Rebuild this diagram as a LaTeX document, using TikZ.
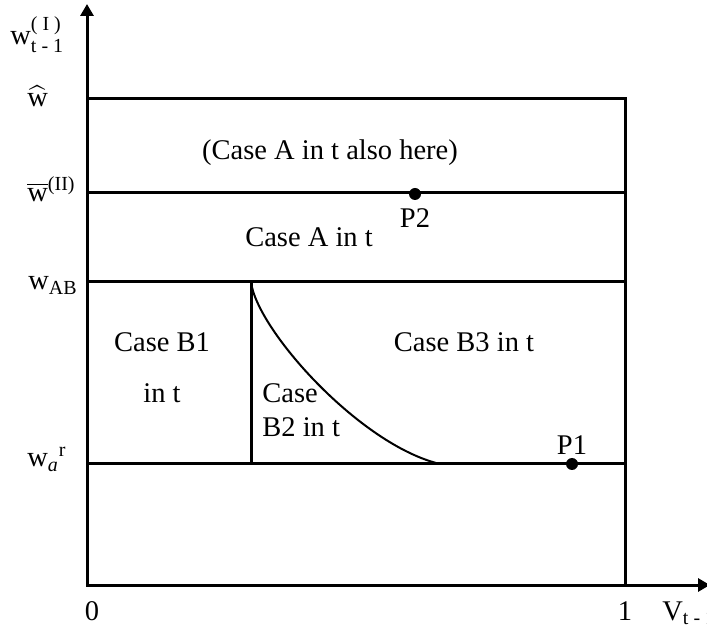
\documentclass[tikz,border=0pt]{standalone}
\usepackage{amsmath}
\usepackage{fontspec}
\setmainfont{Liberation Serif}
\usetikzlibrary{arrows.meta,positioning}
\tikzset{
  rgaxis/.style={{Triangle[length=6pt,width=6.5pt]}-{Triangle[length=6pt,width=6.5pt]}, line width=1.5pt},
  rgline/.style={line width=1.5pt, line cap=rect},
  rgcurve/.style={line width=1pt},
  rgdot/.style={circle, fill=black, inner sep=0pt, minimum size=6pt},
  rgtext/.style={inner sep=0pt, anchor=base},
  rgtick/.style={inner sep=0pt, anchor=base west}
}

\begin{document}
\begin{tikzpicture}[x=0.5pt, y=-0.5pt, font=\fontsize{14.25}{17}\selectfont]
  \useasboundingbox (0,0) rectangle (707,630);
  % axes
  \coordinate (origin) at (87,585);
  \coordinate (ytop) at (87,4);
  \coordinate (xend) at (710,585);
  \coordinate (one) at (625,585);
  \draw[rgaxis] (ytop) -- (origin) -- (xend);
  % levels of w
  \foreach \lv/\y in {hat/99, bar/193, ab/282, ar/464} {
    \coordinate (\lv-l) at (87,\y);
    \coordinate (\lv-r) at (625,\y);
    \draw[rgline] (\lv-l) -- (\lv-r);
  }
  \draw[rgline] (hat-r) -- (one);
  % borders of case B
  \coordinate (kink) at (251,282);
  \coordinate (kinkfoot) at (251,464);
  \coordinate (curveend) at (440,464);
  \draw[rgline] (kink) -- (kinkfoot);
  \draw[rgcurve] (kink) .. controls (257,330) and (360,445) .. (curveend);
  % points
  \node[rgdot] (p2) at (415,194) {};
  \node[rgdot] (p1) at (572,464) {};
  \node[inner sep=0pt, below=4pt of p2] (p2lbl) {P2};
  \node[inner sep=0pt, above=1.5pt of p1] (p1lbl) {P1};
  % regions
  \node[rgtext] (casetop) at (330,160) {(Case A in t also here)};
  \node[rgtext] (casea) at (309,247) {Case A in t};
  \node[rgtext] (caseb1) at (162,352) {Case B1};
  \node[rgtext] (caseb1t) at (162,403) {in t};
  \node[rgtick] (caseb2) at (262,403) {Case};
  \node[rgtick] (caseb2t) at (262,437) {B2 in t};
  \node[rgtext] (caseb3) at (464,352) {Case B3 in t};
  % axis labels
  \node[rgtick] (lblw) at (10,45) {$\text{w}_{\text{t - 1}}^{\text{( I )}}$};
  \node[rgtick] (lblhat) at (27,107) {$\widehat{\text{w}}$};
  \node[rgtick] (lblbar) at (27,202) {$\overline{\text{w}}^{\text{(II)}}$};
  \node[rgtick] (lblab) at (28,290) {$\text{w}_{\text{AB}}$};
  \node[rgtick] (lblar) at (27,467) {$\text{w}_{\textit{a}}{}^{\text{r}}$};
  \node[rgtext] (lbl0) at (92,620) {0};
  \node[rgtext] (lbl1) at (625,620) {1};
  \node[rgtick] (lblv) at (662,620) {$\text{V}_{\text{t - 1}}$};
\end{tikzpicture}
\end{document}
